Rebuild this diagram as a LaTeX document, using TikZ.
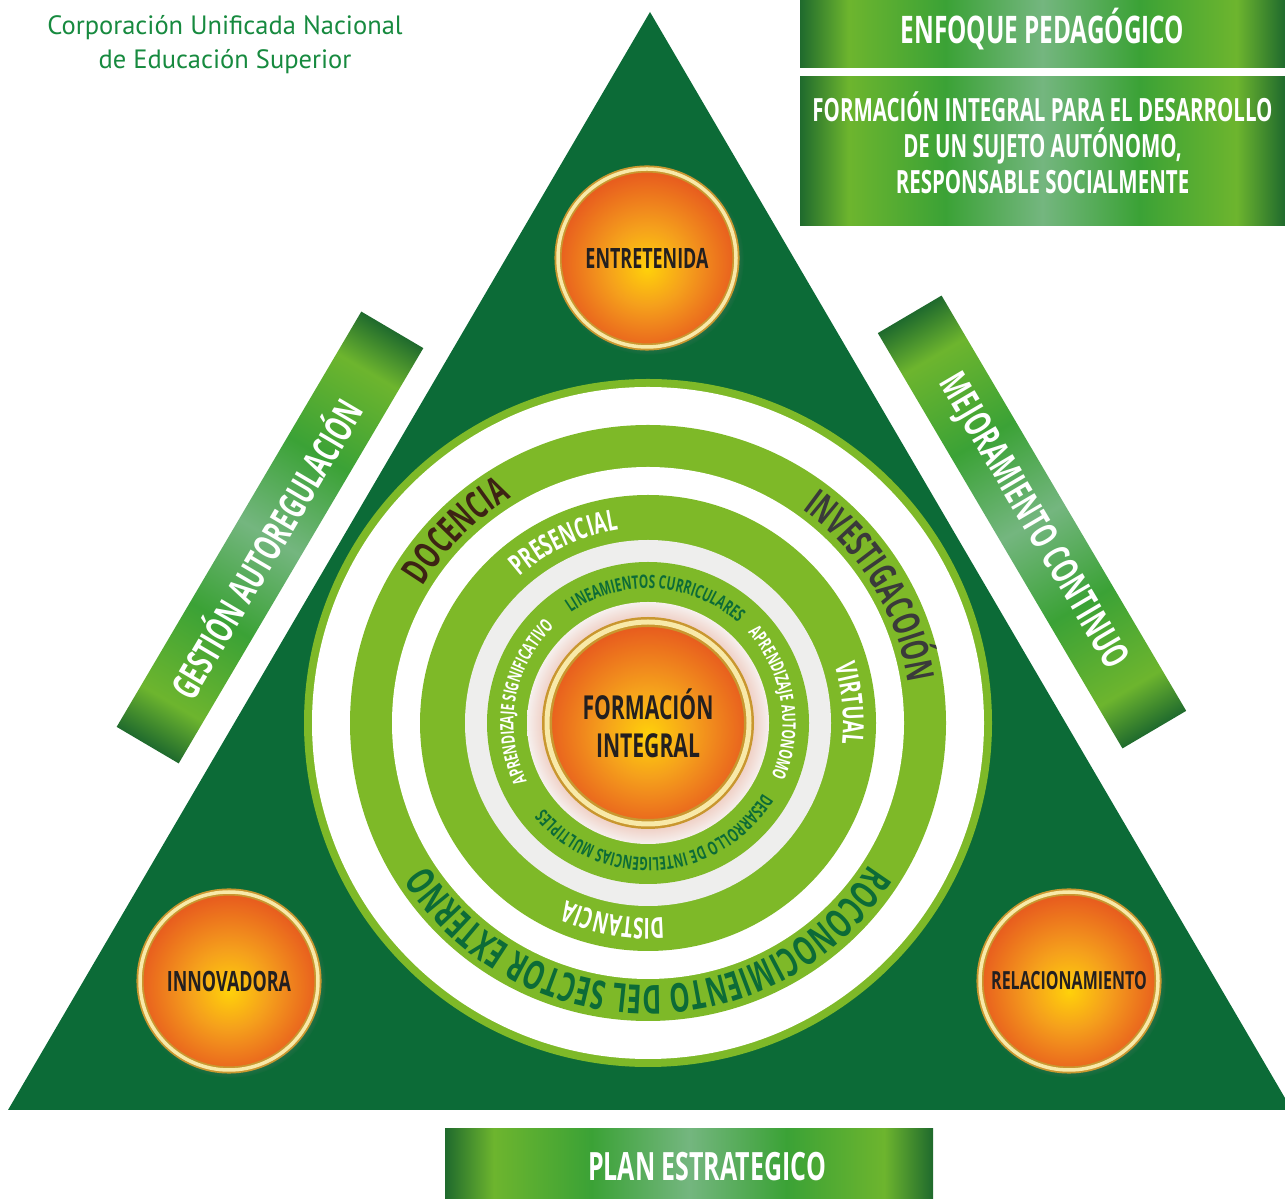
\documentclass[tikz,border=0pt]{standalone}
\usepackage{fontspec}
\usetikzlibrary{calc, positioning, shadows, decorations.text}

\setmainfont{Open Sans}
\newfontfamily\condfont[FakeStretch=0.64]{Open Sans}
\newfontfamily\titlefont{PT Sans}
\newcommand\condsize[2]{\condfont\bfseries\fontsize{#1}{#2}\selectfont}

\definecolor{triangreen}{HTML}{0C6B37}
\definecolor{ringgreen}{HTML}{7EB928}
\definecolor{ringgray}{HTML}{EEEEED}
\definecolor{halopink}{HTML}{F0D2C8}
\definecolor{haloedge}{HTML}{F6F0EE}
\definecolor{goldlight}{HTML}{F8E9A8}
\definecolor{golddark}{HTML}{C9972F}
\definecolor{sunyellow}{HTML}{FFD10A}
\definecolor{sunmid}{HTML}{F5A01C}
\definecolor{sunorange}{HTML}{E85E1E}
\definecolor{bdark}{HTML}{1F6A2D}
\definecolor{blight}{HTML}{6DB52E}
\definecolor{bmid}{HTML}{3BA236}
\definecolor{bteal}{HTML}{74B67F}
\definecolor{docbrown}{HTML}{3D2314}
\definecolor{invgray}{HTML}{3A3A3A}
\definecolor{titlegreen}{HTML}{178A3F}
\definecolor{medaltext}{HTML}{231F20}

\pgfdeclarehorizontalshading{bannershade}{100bp}{color(0bp)=(bdark); color(25bp)=(bdark); color(30bp)=(blight); color(40bp)=(bmid); color(50bp)=(bteal); color(60bp)=(bmid); color(70bp)=(blight); color(75bp)=(bdark); color(100bp)=(bdark)}
\pgfdeclareradialshading{sunshade}{\pgfpoint{0bp}{-3bp}}{color(0bp)=(sunyellow); color(11bp)=(sunmid); color(25bp)=(sunorange); color(50bp)=(sunorange)}
\pgfdeclareradialshading{haloshade}{\pgfpointorigin}{color(0bp)=(halopink); color(21.9bp)=(halopink); color(25bp)=(haloedge); color(50bp)=(haloedge)}

\begin{document}
\begin{tikzpicture}[x=1pt, y=1pt]

  \tikzstyle{banner} = [rectangle, shade, shading=bannershade, inner sep=0pt, text=white];
  \tikzstyle{medal} = [circle, shade, shading=sunshade, draw=golddark, double=goldlight, double distance=3.5pt, line width=1.8pt, inner sep=0pt, text=medaltext, font=\condsize{28}{28}];
  \tikzstyle{outermedal} = [medal, minimum size=178, circular drop shadow={shadow scale=1.07, opacity=0.45}];
  \tikzstyle{ringtext} = [decorate, decoration={text along path, text align=center}];

  \useasboundingbox (0,0) rectangle (1285,1199);

  \coordinate (apex)  at (650,1187);
  \coordinate (lbase) at (8,89);
  \coordinate (rbase) at (1292,89);
  \fill[triangreen] (apex) -- (lbase) -- (rbase) -- cycle;

  \node[font=\titlefont\fontsize{26.5}{34}\selectfont, text=titlegreen, align=center] (cun) at (225,1154)
    {Corporación Unificada Nacional\\de Educación Superior};

  \node[banner, minimum width=485, minimum height=68, text height=27pt, text depth=8pt, font=\condsize{38}{38}] (enfoque) at (1042.5,1165) {ENFOQUE PEDAGÓGICO};
  \node[banner, minimum width=485, minimum height=149, below=8pt of enfoque] (sujeto) {};
  \node[font=\condsize{32}{36}, text=white, align=center, yshift=8pt] (sujetotext) at (sujeto)
    {FORMACIÓN INTEGRAL PARA EL DESARROLLO\\DE UN SUJETO AUTÓNOMO,\\RESPONSABLE SOCIALMENTE};

  \begin{scope}[transform canvas={shift={(270,661.5)}, rotate=59.5}]
    \node[banner, minimum width=482, minimum height=72, font=\condsize{38}{38}] (gestion) at (0,0) {\hspace*{-24pt}GESTIÓN AUTOREGULACIÓN};
  \end{scope}
  \begin{scope}[transform canvas={shift={(1032,677)}, rotate=-59.5}]
    \node[banner, minimum width=482, minimum height=74, font=\condsize{38}{38}] (mejora) at (0,0) {MEJORAMIENTO CONTINUO};
  \end{scope}

  \node[banner, minimum width=488, minimum height=75, font=\condsize{39}{39}] (plan) at (689,32.5) {\hspace*{36pt}PLAN ESTRATEGICO};

  \node[outermedal] (entretenida) at (647,941) {ENTRETENIDA};
  \node[outermedal] (innovadora) at (229,218) {INNOVADORA};
  \node[outermedal, font=\condsize{25}{25}] (relacion) at (1069,218) {RELACIONAMIENTO};

  % rings around the core
  \begin{scope}[shift={(648,476)}]
    \fill[ringgreen] (0,0) circle[radius=344];
    \fill[white]     (0,0) circle[radius=336];
    \fill[ringgreen] (0,0) circle[radius=298];
    \fill[white]     (0,0) circle[radius=256];
    \fill[ringgreen] (0,0) circle[radius=228];
    \fill[ringgray]  (0,0) circle[radius=183];
    \fill[ringgreen] (0,0) circle[radius=161];
    \shade[shading=haloshade] (0,0) circle[radius=121];

    \path[ringtext, decoration={text={|\condsize{38}{38}\color{docbrown}|DOCENCIA}}]
      (165:263.5) arc[start angle=165, end angle=105, radius=263.5];
    \path[ringtext, decoration={text={|\condsize{38}{38}\color{invgray}|INVESTIGACOIÓN}}]
      (71.5:263.5) arc[start angle=71.5, end angle=-8.5, radius=263.5];
    \path[ringtext, decoration={text={|\condsize{40}{40}\color{triangreen}|ROCONOCIMIENTO DEL SECTOR EXTERNO}}]
      (-5:262.5) arc[start angle=-5, end angle=-175, radius=262.5];

    \path[ringtext, decoration={text={|\condsize{29}{29}\color{white}|PRESENCIAL}}]
      (145:195) arc[start angle=145, end angle=85, radius=195];
    \path[ringtext, decoration={text={|\condsize{29}{29}\color{white}|VIRTUAL}}]
      (30.5:195) arc[start angle=30.5, end angle=-19.5, radius=195];
    \path[ringtext, decoration={text={|\condsize{29}{29}\color{white}|DISTANCIA}}]
      (-75:195) arc[start angle=-75, end angle=-125, radius=195];

    \path[ringtext, decoration={text={|\condsize{18.5}{18.5}\color{triangreen}|LINEAMIENTOS CURRICULARES}}]
      (141.5:134.5) arc[start angle=141.5, end angle=31.5, radius=134.5];
    \path[ringtext, decoration={text={|\condsize{18.5}{18.5}\color{white}|APRENDIZAJE AUTONOMO}}]
      (54.3:134.5) arc[start angle=54.3, end angle=-35.7, radius=134.5];
    \path[ringtext, decoration={text={|\condsize{18.5}{18.5}\color{triangreen}|DESARROLLO DE INTELIGENCIAS MULTIPLES}}]
      (-11:134.5) arc[start angle=-11, end angle=-161, radius=134.5];
    \path[ringtext, decoration={text={|\condsize{18.5}{18.5}\color{white}|APRENDIZAJE SIGNIFICATIVO}}]
      (220:134.5) arc[start angle=220, end angle=120, radius=134.5];

    \node[medal, minimum size=202, line width=2.5pt, double distance=5pt, font=\condsize{33}{38}, align=center] (core) at (0,0)
      {FORMACIÓN\\INTEGRAL};
  \end{scope}

\end{tikzpicture}
\end{document}
